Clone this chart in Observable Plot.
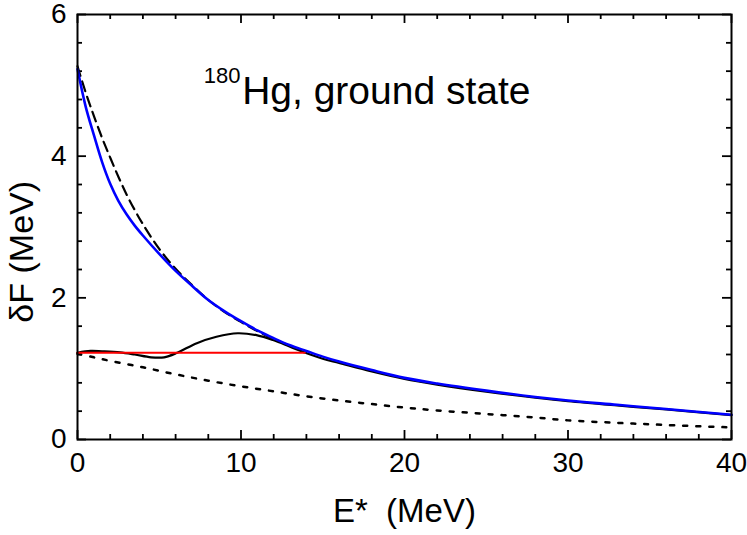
<!DOCTYPE html>
<html>
<head>
<meta charset="utf-8">
<script src="https://cdn.jsdelivr.net/npm/d3@7"></script>
<script src="https://cdn.jsdelivr.net/npm/@observablehq/plot@0.6"></script>
<style>
  html, body { margin: 0; padding: 0; background: #fff; }
  #chart { width: 747px; height: 535px; }
</style>
</head>
<body>
<div id="chart"></div>
<script>
// ---- data ----
const blueE = [0, 0.5, 1, 1.5, 2, 2.5, 3, 3.5, 4, 5, 6, 7, 8, 9, 10, 11, 12, 13, 14, 15, 16, 18, 20, 22, 25, 28, 30, 33, 36, 40];
const blueF = [5.23, 4.70, 4.30, 3.92, 3.61, 3.37, 3.18, 3.02, 2.88, 2.62, 2.38, 2.17, 1.97, 1.81, 1.67, 1.54, 1.43, 1.33, 1.25, 1.17, 1.10, 0.98, 0.87, 0.79, 0.69, 0.60, 0.55, 0.49, 0.43, 0.35];

const dashE = [0, 0.5, 1, 1.5, 2, 2.5, 3, 3.5, 4, 5, 6, 7, 8, 9, 10, 11, 12, 13];
const dashF = [5.27, 4.90, 4.57, 4.26, 3.98, 3.71, 3.46, 3.24, 3.04, 2.69, 2.41, 2.18, 1.97, 1.80, 1.66, 1.53, 1.42, 1.32];

const blackE = [0, 0.8, 1.5, 2.6, 3.5, 4.5, 5.3, 6.1, 7.3, 8.5, 9.8, 11, 12, 13, 14, 15, 16, 18, 20, 22, 25, 28, 30, 33, 36, 40];
const blackF = [1.225, 1.25, 1.245, 1.23, 1.20, 1.16, 1.16, 1.225, 1.36, 1.45, 1.50, 1.47, 1.40, 1.31, 1.22, 1.14, 1.08, 0.96, 0.855, 0.775, 0.675, 0.59, 0.54, 0.48, 0.425, 0.345];

const redE = [0, 13.9];
const redF = [1.225, 1.225];

const dotE = [0, 1, 2, 4, 6, 8, 10, 12, 14, 16, 18, 20, 22, 25, 28, 30, 33, 36, 40];
const dotF = [1.21, 1.16, 1.11, 1.02, 0.92, 0.83, 0.75, 0.68, 0.61, 0.55, 0.50, 0.45, 0.41, 0.36, 0.31, 0.27, 0.235, 0.205, 0.17];

// ticks
const xMajor = [0, 10, 20, 30, 40];
const xMinor = [2, 4, 6, 8, 12, 14, 16, 18, 22, 24, 26, 28, 32, 34, 36, 38];
const yMajor = [0, 2, 4, 6];
const yMinor = [0.4, 0.8, 1.2, 1.6, 2.4, 2.8, 3.2, 3.6, 4.4, 4.8, 5.2, 5.6];

// texts
const xTitle = "E* (MeV)";
const yTitle = "δF (MeV)";
const annoMass = "180";
const annoText = "Hg, ground state";

// ---- layout ----
const W = 747, H = 535;
const mL = 77, mR = 16, mT = 14, mB = 96;
const fw = W - mL - mR, fh = H - mT - mB;
const maj = 9, mnr = 5;
const FONT = "'Liberation Sans', Arial, Helvetica, sans-serif";

const tickStyle = {stroke: "black", strokeWidth: 1.8};

const plot = Plot.plot({
  width: W, height: H,
  marginLeft: mL, marginRight: mR, marginTop: mT, marginBottom: mB,
  style: {fontFamily: FONT, fontSize: "28px", background: "white", color: "black"},
  x: {domain: [0, 40]},
  y: {domain: [0, 6]},
  marks: [
    Plot.axisX({ticks: xMajor, tickSize: 0, tickPadding: 13, fontSize: 28, tickFormat: d => String(d), label: null}),
    Plot.axisY({ticks: yMajor, tickSize: 0, tickPadding: 11, fontSize: 28, tickFormat: d => String(d), label: null}),
    // inward ticks, bottom/top
    Plot.ruleX(xMajor, {x: d => d, insetTop: fh - maj, ...tickStyle}),
    Plot.ruleX(xMinor, {x: d => d, insetTop: fh - mnr, ...tickStyle}),
    Plot.ruleX(xMajor, {x: d => d, insetBottom: fh - maj, ...tickStyle}),
    Plot.ruleX(xMinor, {x: d => d, insetBottom: fh - mnr, ...tickStyle}),
    // inward ticks, left/right
    Plot.ruleY(yMajor, {y: d => d, insetRight: fw - maj, ...tickStyle}),
    Plot.ruleY(yMinor, {y: d => d, insetRight: fw - mnr, ...tickStyle}),
    Plot.ruleY(yMajor, {y: d => d, insetLeft: fw - maj, ...tickStyle}),
    Plot.ruleY(yMinor, {y: d => d, insetLeft: fw - mnr, ...tickStyle}),
    // curves
    Plot.line(dotF, {x: dotE, y: dotF, curve: "catmull-rom", stroke: "black", strokeWidth: 2.5, strokeDasharray: "4,9"}),
    Plot.line(blackF, {x: blackE, y: blackF, curve: "catmull-rom", stroke: "black", strokeWidth: 2.2}),
    Plot.line(dashF, {x: dashE, y: dashF, curve: "catmull-rom", stroke: "black", strokeWidth: 2.2, strokeDasharray: "10,6"}),
    Plot.line(redF, {x: redE, y: redF, stroke: "#ff0000", strokeWidth: 2.2}),
    Plot.line(blueF, {x: blueE, y: blueF, curve: "catmull-rom", stroke: "#0000ff", strokeWidth: 2.6}),
    Plot.frame({stroke: "black", strokeWidth: 2}),
    // annotation
    Plot.text([annoMass], {x: 9.97, y: 5.03, text: d => d, textAnchor: "end", lineAnchor: "bottom", fontSize: 22, fill: "black"}),
    Plot.text([annoText], {x: 10.07, y: 4.74, text: d => d, textAnchor: "start", lineAnchor: "bottom", fontSize: 39, fill: "black"}),
    // axis titles (positioned in scale space just outside the frame)
    Plot.text([xTitle], {x: 20, y: -1.16, text: d => d, lineAnchor: "bottom", fontSize: 33, fill: "black"}),
    Plot.text([yTitle], {x: -3.4, y: 2.65, rotate: -90, text: d => d, lineAnchor: "middle", fontSize: 34, fill: "black"})
  ]
});

document.getElementById("chart").appendChild(plot);
d3.select(plot).selectAll("text").filter(function() { return this.textContent === xTitle; })
  .style("word-spacing", "9px");
</script>
</body>
</html>
